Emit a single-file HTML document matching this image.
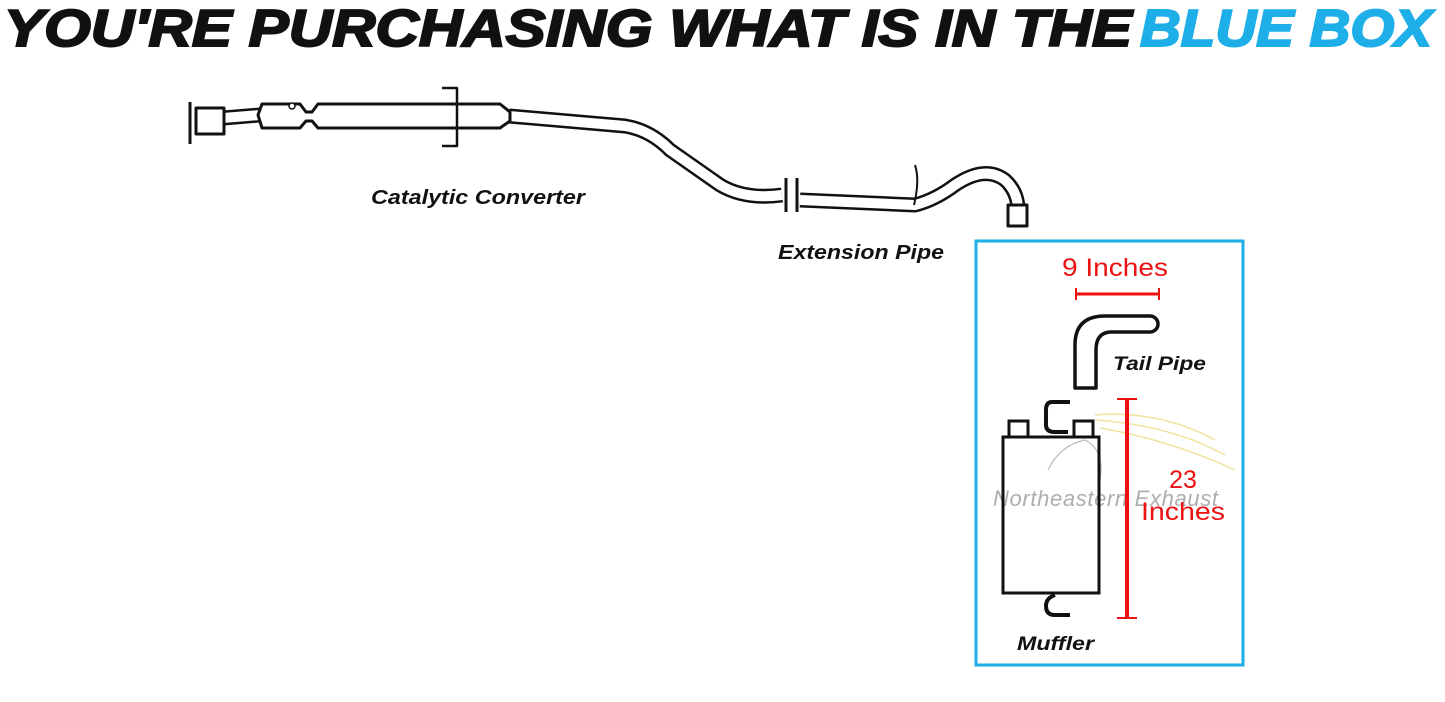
<!DOCTYPE html>
<html><head><meta charset="utf-8"><style>
html,body{margin:0;padding:0;background:#fff;width:1445px;height:702px;overflow:hidden}
svg{display:block}
</style></head><body>
<svg width="1445" height="702" viewBox="0 0 1445 702" xmlns="http://www.w3.org/2000/svg" font-family="Liberation Sans, sans-serif">
<text x="4" y="46" font-size="52" font-weight="900" font-style="italic" fill="#111" textLength="1128" lengthAdjust="spacingAndGlyphs" stroke="#111" stroke-width="2">YOU'RE PURCHASING WHAT IS IN THE</text>
<text x="1140" y="46" font-size="52" font-weight="900" font-style="italic" fill="#1eaee8" textLength="292" lengthAdjust="spacingAndGlyphs" stroke="#1eaee8" stroke-width="2">BLUE BOX</text>

<g fill="none" stroke-linejoin="round">
<path d="M197,123 L223,118 L260,115 M509,116 L625,126 Q650,130 670,150 L720,185 Q745,200 782,195" stroke="#111" stroke-width="15"/>
<path d="M197,123 L223,118 L260,115 M509,116 L625,126 Q650,130 670,150 L720,185 Q745,200 782,195" stroke="#fff" stroke-width="10"/>
<path d="M258,115 L262,104 L300,104 L306,112 L312,112 L318,104 L500,104 L510,112 L510,121 L500,128 L318,128 L312,121 L306,121 L300,128 L262,128 Z" fill="#fff" stroke="#111" stroke-width="3"/>
<rect x="196" y="108" width="28" height="26" fill="#fff" stroke="#111" stroke-width="3"/>
<line x1="190" y1="102" x2="190" y2="144" stroke="#111" stroke-width="3"/>
<circle cx="292" cy="106" r="3" stroke="#111" stroke-width="1.5" fill="#fff"/>
<path d="M442,88 L457,88 L457,146 L442,146" stroke="#111" stroke-width="2.5"/>
<line x1="786" y1="178" x2="786" y2="212" stroke="#111" stroke-width="3"/>
<line x1="797" y1="178" x2="797" y2="212" stroke="#111" stroke-width="3"/>
<path d="M800,200 L915,205 Q935,200 955,185 Q985,165 1005,180 Q1018,192 1018,210" stroke="#111" stroke-width="15"/>
<path d="M800,200 L915,205 Q935,200 955,185 Q985,165 1005,180 Q1018,192 1018,210" stroke="#fff" stroke-width="10"/>
<rect x="1008" y="205" width="19" height="21" fill="#fff" stroke="#111" stroke-width="3"/>
<path d="M915,165 Q920,180 914,205" stroke="#111" stroke-width="2"/>
</g>
<text x="371" y="204" font-size="20" font-weight="bold" font-style="italic" fill="#111" textLength="214" lengthAdjust="spacingAndGlyphs">Catalytic Converter</text>
<text x="778" y="259" font-size="20" font-weight="bold" font-style="italic" fill="#111" textLength="166" lengthAdjust="spacingAndGlyphs">Extension Pipe</text>

<rect x="976" y="241" width="267" height="424" fill="none" stroke="#1eaee8" stroke-width="3"/>
<text x="1062" y="276" font-size="25" fill="#e11" textLength="106" lengthAdjust="spacingAndGlyphs">9 Inches</text>
<line x1="1076" y1="294" x2="1159" y2="294" stroke="#e11" stroke-width="3"/>
<line x1="1076" y1="288" x2="1076" y2="300" stroke="#e11" stroke-width="2"/>
<line x1="1159" y1="288" x2="1159" y2="300" stroke="#e11" stroke-width="2"/>
<path d="M1075,388 L1075,345 Q1075,316 1105,316 L1150,316 A8,8 0 0 1 1150,332 L1110,332 Q1096,333 1096,350 L1096,388 Z" fill="#fff" stroke="#111" stroke-width="3.5" stroke-linejoin="round"/>
<text x="1113" y="370" font-size="19" font-weight="bold" font-style="italic" fill="#111" textLength="93" lengthAdjust="spacingAndGlyphs">Tail Pipe</text>
<g fill="none" stroke="#f1e3a0" stroke-width="1.5">
<path d="M1095,415 Q1160,410 1215,440"/><path d="M1095,420 Q1170,425 1225,455"/><path d="M1100,428 Q1170,440 1235,470"/>
</g>
<path d="M1048,470 Q1060,445 1085,440 Q1105,450 1100,480" fill="none" stroke="#bbb" stroke-width="1.2"/>
<text x="993" y="506" font-size="22" font-style="italic" fill="#999" opacity="0.8" textLength="225">Northeastern Exhaust</text>
<rect x="1009" y="421" width="19" height="16" fill="none" stroke="#111" stroke-width="3"/>
<rect x="1074" y="421" width="19" height="16" fill="none" stroke="#111" stroke-width="3"/>
<path d="M1070,402 L1052,402 Q1046,402 1046,410 L1046,425 Q1046,432 1055,432 L1068,432" fill="none" stroke="#111" stroke-width="4"/>
<rect x="1003" y="437" width="96" height="156" fill="none" stroke="#111" stroke-width="3"/>
<path d="M1055,595 Q1046,598 1046,606 Q1046,615 1055,615 L1070,615" fill="none" stroke="#111" stroke-width="4"/>
<text x="1017" y="650" font-size="19" font-weight="bold" font-style="italic" fill="#111" textLength="77" lengthAdjust="spacingAndGlyphs">Muffler</text>
<line x1="1127" y1="399" x2="1127" y2="618" stroke="#e11" stroke-width="4"/>
<line x1="1117" y1="399" x2="1137" y2="399" stroke="#e11" stroke-width="2"/>
<line x1="1117" y1="618" x2="1137" y2="618" stroke="#e11" stroke-width="2"/>
<text x="1183" y="488" font-size="25" fill="#e11" text-anchor="middle">23</text>
<text x="1141" y="520" font-size="25" fill="#e11" textLength="84" lengthAdjust="spacingAndGlyphs">Inches</text>
</svg>
</body></html>
